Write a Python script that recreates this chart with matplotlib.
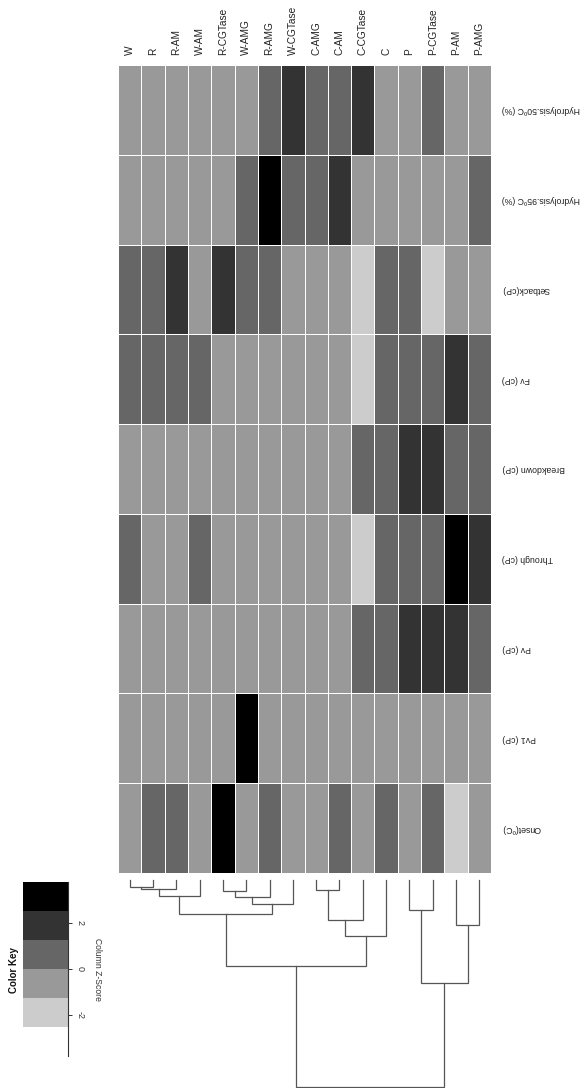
import numpy as np
import matplotlib
matplotlib.use("Agg")
import matplotlib.pyplot as plt
from matplotlib.colors import ListedColormap, BoundaryNorm

plt.rcParams['font.family'] = ['Liberation Sans', 'DejaVu Sans']

samples = ["W", "R", "R-AM", "W-AM", "R-CGTase", "W-AMG", "R-AMG", "W-CGTase",
           "C-AMG", "C-AM", "C-CGTase", "C", "P", "P-CGTase", "P-AM", "P-AMG"]
traits = ["Hydrolysis.50ºC (%)", "Hydrolysis.95ºC (%)", "Setback(cP)", "Fv (cP)",
          "Breakdown (cP)", "Through (cP)", "Pv (cP)", "Pv1 (cP)", "Onset(ºC)"]

# column z-scores, one list per trait, in sample order
hydro50 = [-0.5, -0.5, -0.6, -0.6, -0.5, -0.4, 0.7, 1.8, 0.6, 0.5, 1.9, -0.6, -0.7, 0.8, -0.6, -0.5]
hydro95 = [-0.6, -0.6, -0.5, -0.6, -0.4, 0.5, 2.9, 0.6, 0.7, 1.6, -0.5, -0.6, -0.7, -0.6, -0.6, 0.4]
setback = [0.6, 0.5, 1.5, -0.3, 1.6, 0.4, 0.5, -0.5, -0.4, -0.5, -2.1, 0.7, 0.6, -2.0, -0.6, -0.4]
fv = [0.5, 0.5, 0.4, 0.3, -0.6, -0.6, -0.5, -0.6, -0.5, -0.6, -2.2, 0.6, 0.7, 0.6, 2.0, 0.5]
breakdown = [-0.7, -0.7, -0.6, -0.7, -0.6, -0.7, -0.6, -0.7, -0.6, -0.6, 0.4, 0.6, 2.1, 2.0, 0.8, 0.5]
through = [0.4, -0.5, -0.6, 0.3, -0.5, -0.5, -0.6, -0.5, -0.4, -0.6, -2.3, 0.5, 0.6, 0.5, 2.9, 1.6]
pv = [-0.6, -0.6, -0.6, -0.6, -0.6, -0.5, -0.6, -0.6, -0.6, -0.6, 0.2, 0.4, 1.9, 1.8, 2.0, 0.6]
pv1 = [-0.25, -0.25, -0.25, -0.25, -0.25, 3.75, -0.25, -0.25,
       -0.25, -0.25, -0.25, -0.25, -0.25, -0.25, -0.25, -0.25]
onset = [-0.3, 0.6, 0.5, -0.4, 3.1, -0.5, 0.4, -0.6, -0.5, 0.3, -0.4, 0.5, -0.5, 0.6, -2.4, -0.6]

# sample dendrogram: (left node, right node, merge height); leaves are 0..15
merges = [(0, 1, 7.3), (16, 2, 9.0), (17, 3, 15.7),
          (4, 5, 11.0), (19, 6, 17.3), (20, 7, 24.3), (18, 21, 34.3),
          (8, 9, 10.0), (23, 10, 40.0), (24, 11, 56.0), (22, 25, 86.0),
          (12, 13, 30.0), (14, 15, 45.0), (27, 28, 103.3), (26, 29, 207.0)]

key_breaks = np.linspace(-3.78, 3.78, 7)
grays = ListedColormap(["#ffffff", "#cccccc", "#999999", "#666666", "#333333", "#000000"])
norm = BoundaryNorm(key_breaks, grays.N)

W, H = 580, 1088
fig = plt.figure(figsize=(W / 100, H / 100), dpi=100)


def box(x0, y0, x1, y1):
    return [x0 / W, 1 - y1 / H, (x1 - x0) / W, (y1 - y0) / H]


# heatmap
z = np.array([hydro50, hydro95, setback, fv, breakdown, through, pv, pv1, onset])
ax = fig.add_axes(box(118, 65, 491, 873))
ax.pcolormesh(z, cmap=grays, norm=norm, edgecolors="white", linewidth=0.6)
ax.set_xlim(0, len(samples))
ax.set_ylim(len(traits), 0)
for s in ax.spines.values():
    s.set_visible(False)
ax.set_xticks(np.arange(len(samples)) + 0.5, samples, rotation=90, fontsize=7.3, color="#222222")
ax.set_yticks(np.arange(len(traits)) + 0.5, traits, rotation=180, fontsize=6.3, color="#222222",
              va="center", ha="left")
ax.tick_params(axis="x", top=True, labeltop=True, bottom=False, labelbottom=False, length=0, pad=7)
ax.tick_params(axis="y", left=False, labelleft=False, right=True, labelright=True, length=0, pad=8)

# dendrogram below the heatmap
axd = fig.add_axes(box(118, 880, 491, 1088))
xpos = {i: i + 0.5 for i in range(len(samples))}
hpos = {i: 0.0 for i in range(len(samples))}
for k, (a, b, h) in enumerate(merges):
    node = len(samples) + k
    axd.plot([xpos[a], xpos[a], xpos[b], xpos[b]], [hpos[a], h, h, hpos[b]],
             color="#555555", lw=0.9, clip_on=False, solid_joinstyle="miter")
    xpos[node] = (xpos[a] + xpos[b]) / 2
    hpos[node] = h
axd.set_xlim(0, len(samples))
axd.set_ylim(208, 0)
axd.axis("off")

# colour key
axk = fig.add_axes(box(22.7, 882, 68.3, 1056))
mids = (key_breaks[:-1] + key_breaks[1:]) / 2
axk.pcolormesh([0, 1], key_breaks, mids.reshape(-1, 1), cmap=grays, norm=norm)
axk.set_ylim(key_breaks[0], key_breaks[-1])
axk.set_xlim(0, 1)
for side in ["left", "top", "bottom"]:
    axk.spines[side].set_visible(False)
axk.spines["right"].set_color("#333333")
axk.spines["right"].set_linewidth(0.8)
axk.set_xticks([])
axk.yaxis.tick_right()
axk.set_yticks([-2, 0, 2], ["-2", "0", "2"], rotation=270, fontsize=6.5, color="#333333", va="center")
axk.tick_params(axis="y", length=3, width=0.7, color="#333333", pad=2.5)

fig.text(97.5 / W, 1 - 969.5 / H, "Column Z-Score", rotation=270, fontsize=6.2,
         color="#333333", ha="center", va="center")
fig.text(14 / W, 1 - 970 / H, "Color Key", rotation=90, fontsize=7, fontweight="bold",
         color="#111111", ha="center", va="center")

fig.savefig("out.png", dpi=100, facecolor="white")
